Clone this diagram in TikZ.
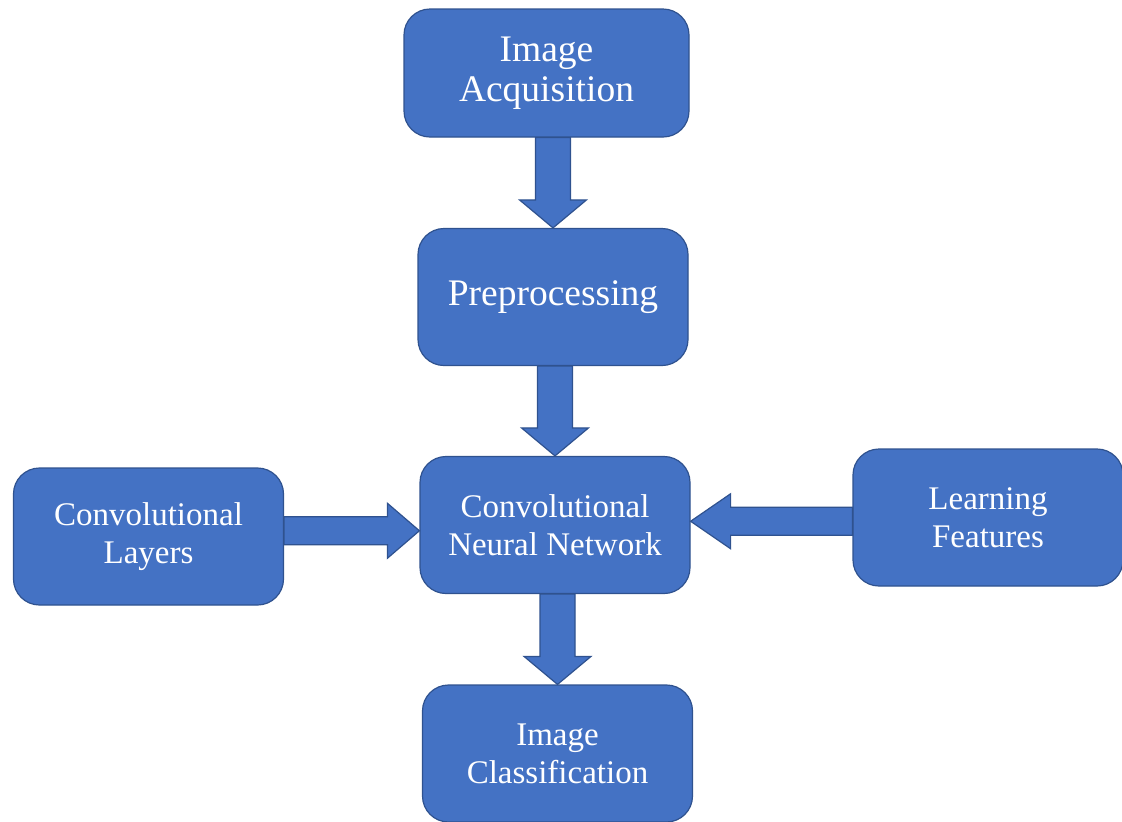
\documentclass[tikz,border=0pt]{standalone}
\usepackage{fontspec}
\setmainfont{Liberation Serif}
\usetikzlibrary{calc}
\definecolor{boxblue}{HTML}{4472C4}
\definecolor{boxedge}{HTML}{2F528F}

\begin{document}
\begin{tikzpicture}[x=0.5pt,y=-0.5pt,
    stage/.style={rectangle,rounded corners=13pt,fill=boxblue,draw=boxedge,line width=0.6pt,
        text=white,align=center,minimum width=135pt,minimum height=68.5pt,inner sep=2pt,
        font=\fontsize{16.5}{19}\selectfont},
    bigstage/.style={stage,font=\fontsize{18.75}{20}\selectfont},
    blockarrow/.style={fill=boxblue,draw=boxedge,line width=0.6pt,line join=miter}]
    \pgfmathsetmacro{\vshaft}{17.5}
    \pgfmathsetmacro{\vwing}{33.5}
    \pgfmathsetmacro{\vhead}{28}
    \pgfmathsetmacro{\hshaft}{14}
    \pgfmathsetmacro{\hwing}{27.5}
    \providecommand{\downblock}[2]{%
        \coordinate (tip) at (#2.north);
        \coordinate (base) at ($(tip)+(0,-\vhead)$);
        \draw[blockarrow] ($(tip|-#1.south)+(-\vshaft,0)$) -- ($(base)+(-\vshaft,0)$) -- ($(base)+(-\vwing,0)$) -- (tip)
            -- ($(base)+(\vwing,0)$) -- ($(base)+(\vshaft,0)$) -- ($(tip|-#1.south)+(\vshaft,0)$) -- cycle;}
    \providecommand{\sideblock}[3]{%
        \coordinate (mid) at ($(#1)!0.5!(#2)$);
        \coordinate (tip) at (#2|-mid);
        \coordinate (base) at ($(tip)+(#3,0)$);
        \draw[blockarrow] ($(#1|-mid)+(0,-\hshaft)$) -- ($(base)+(0,-\hshaft)$) -- ($(base)+(0,-\hwing)$) -- (tip)
            -- ($(base)+(0,\hwing)$) -- ($(base)+(0,\hshaft)$) -- ($(#1|-mid)+(0,\hshaft)$) -- cycle;}
    \useasboundingbox (0,0) rectangle (1122,821);
    \node[bigstage,minimum width=142.5pt,minimum height=64pt] (acq) at (546.5,73) {Image\\Acquisition};
    \node[bigstage] (prep) at (553,297) {Preprocessing};
    \node[stage] (cnn) at (555,525) {Convolutional\\Neural Network};
    \node[stage] (layers) at (148.5,536.5) {Convolutional\\Layers};
    \node[stage] (feat) at (988,517.5) {Learning\\Features};
    \node[stage] (cls) at (557.5,753.5) {Image\\Classification};
    \downblock{acq}{prep}
    \downblock{prep}{cnn}
    \downblock{cnn}{cls}
    \sideblock{layers.east}{cnn.west}{-32}
    \sideblock{feat.west}{cnn.east}{40}
\end{tikzpicture}
\end{document}
